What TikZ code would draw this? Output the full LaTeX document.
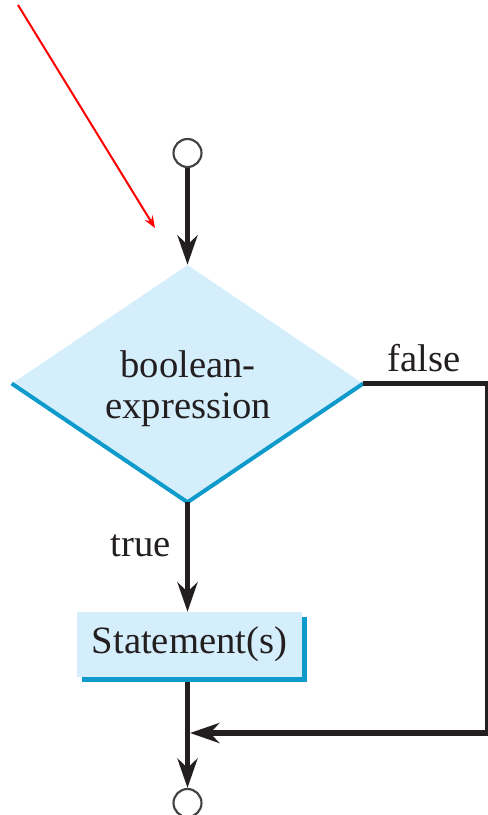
\documentclass[tikz,border=0pt]{standalone}
\usepackage{fontspec}
\setmainfont{Liberation Serif}
\usetikzlibrary{arrows.meta,shapes.geometric}
\definecolor{ink}{HTML}{231F20}
\definecolor{boxfill}{HTML}{D4EEFB}
\definecolor{boxedge}{HTML}{0E9BCB}
\begin{document}
\begin{tikzpicture}[x=0.75pt,y=-0.75pt,
  flow/.style={line width=3.8pt,draw=ink,-{Stealth[length=22pt,width=15pt,inset=7pt]}},
  terminal/.style={circle,draw=ink!85,line width=1.6pt,minimum size=21pt,inner sep=0pt},
  txt/.style={font=\fontsize{29}{32}\selectfont,text=ink}]
\useasboundingbox (0,0) rectangle (487,815);
\node[terminal] (start) at (187.5,153) {};
\node[diamond,fill=boxfill,inner sep=0pt,minimum width=263.25pt,minimum height=177.75pt] (cond) at (187.5,383.5) {};
\node[txt,align=center] (condtext) at (188,389) {boolean-\\[-1pt]expression};
\draw[boxedge,line width=3pt,line join=round] (cond.west)--(cond.south)--(cond.east);
\node[fill=boxfill,minimum width=168.75pt,minimum height=48.75pt,inner sep=0pt] (stmt) at (189.5,644.5) {};
\fill[boxedge] ([yshift=-3.75pt]stmt.north east) rectangle ([xshift=3.75pt,yshift=-3.75pt]stmt.south east);
\fill[boxedge] ([xshift=3.75pt]stmt.south west) rectangle ([xshift=3.75pt,yshift=-3.75pt]stmt.south east);
\node[txt] at (stmt) {Statement(s)};
\node[terminal,overlay] (stop) at (187.5,803) {};
\coordinate (join) at (190,733);
\draw[flow] (start) -- (cond.north);
\draw[flow] (cond.south) -- (cond.south |- stmt.north);
\draw[flow] ([yshift=-3.75pt]cond.south |- stmt.south) -- (stop);
\draw[flow,overlay] (cond.east) -- (487.5,383.5) |- (join);
\node[txt] (falsetext) at (424,358) {false};
\node[txt] (truetext) at (141,546) {true};
\coordinate (pointer) at (18,5);
\draw[red,line width=1.5pt,-{Stealth[length=9pt,width=7pt,inset=3pt]}] (pointer) -- (155,228);
\end{tikzpicture}
\end{document}
